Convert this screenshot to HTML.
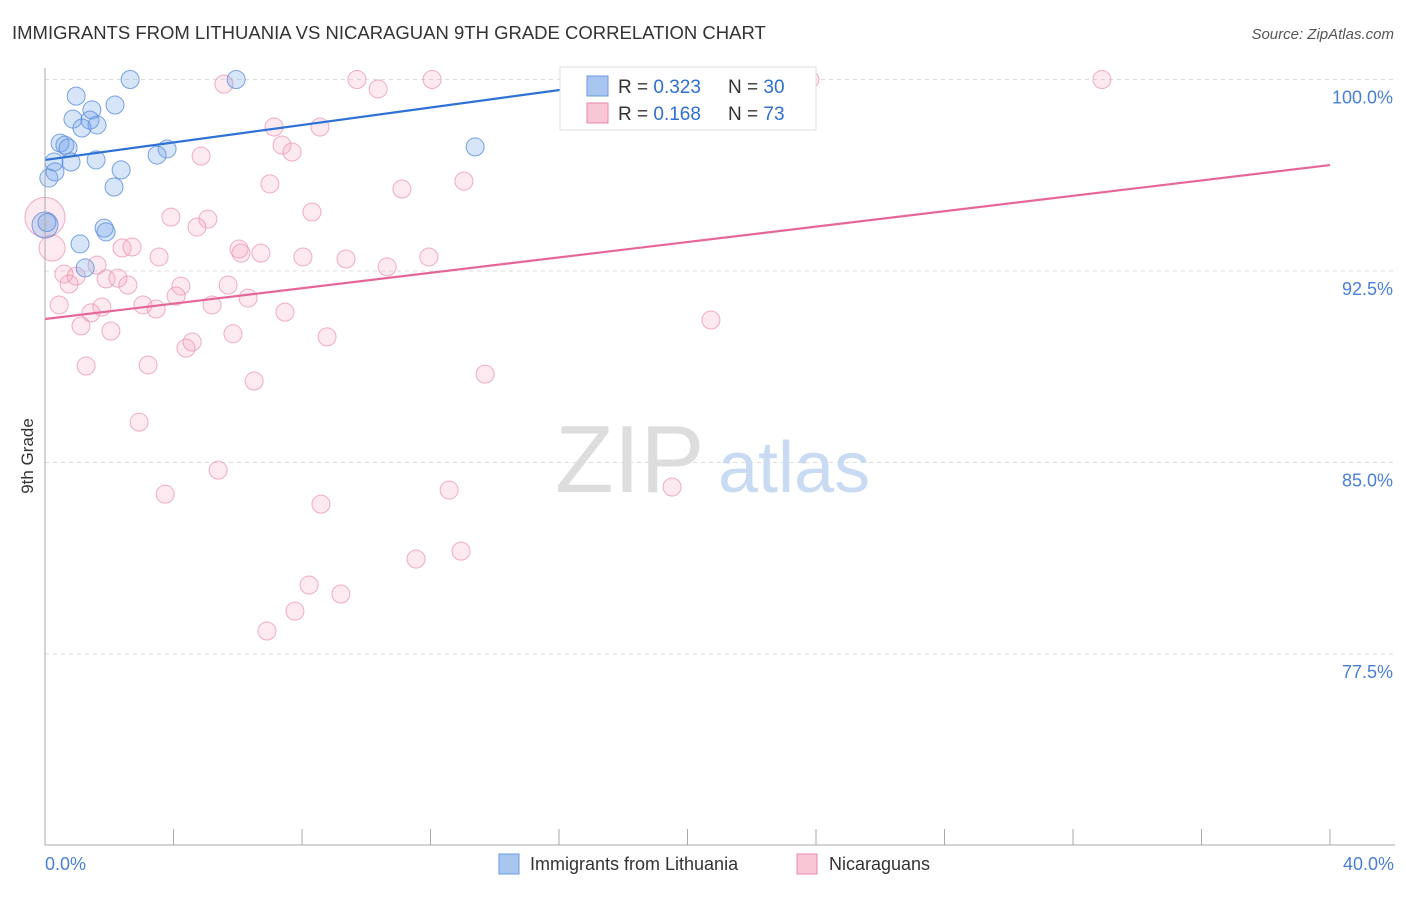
<!DOCTYPE html>
<html><head><meta charset="utf-8"><style>
body{margin:0;background:#fff;font-family:"Liberation Sans",sans-serif}
svg text{font-family:"Liberation Sans",sans-serif}
</style></head><body>
<svg width="1406" height="892" viewBox="0 0 1406 892">
<text x="12" y="39" font-size="18.5" fill="#333">IMMIGRANTS FROM LITHUANIA VS NICARAGUAN 9TH GRADE CORRELATION CHART</text>
<text x="1394" y="39" font-size="15" fill="#555" text-anchor="end" font-style="italic">Source: ZipAtlas.com</text>
<g id="grid"></g>
<text x="555" y="492" font-size="96" fill="#ddd" font-family="Liberation Serif">ZIP</text>
<text x="718" y="492" font-size="72" fill="#c8dbf3">atlas</text>
<g id="pts"></g>
<g id="lines"></g>
<line x1="45" y1="68" x2="45" y2="845" stroke="#aaa"/>
<line x1="45" y1="845" x2="1395" y2="845" stroke="#aaa"/>
<g id="ticks"></g>
<text x="33" y="456" font-size="17" fill="#333" text-anchor="middle" transform="rotate(-90 33 456)">9th Grade</text>
<text x="45" y="870" font-size="18" fill="#4a7fd6">0.0%</text>
<text x="1394" y="870" font-size="18" fill="#4a7fd6" text-anchor="end">40.0%</text>
<g>
<rect x="560" y="67" width="256" height="63" fill="#fff" stroke="#ddd"/>
<rect x="587" y="76" width="21" height="20" fill="#a9c6f0" stroke="#6a9be0"/>
<rect x="587" y="103" width="21" height="20" fill="#f9c6d6" stroke="#e88aa8"/>
<text x="618" y="93" font-size="19" fill="#333">R = <tspan fill="#2f6fd0">0.323</tspan></text>
<text x="728" y="93" font-size="19" fill="#333">N = <tspan fill="#2f6fd0">30</tspan></text>
<text x="618" y="120" font-size="19" fill="#333">R = <tspan fill="#2f6fd0"> 0.168</tspan></text>
<text x="728" y="120" font-size="19" fill="#333">N = <tspan fill="#2f6fd0"> 73</tspan></text>
</g>
<g>
<rect x="499" y="854" width="20" height="20" fill="#a9c6f0" stroke="#6a9be0"/>
<text x="530" y="870" font-size="18" fill="#333">Immigrants from Lithuania</text>
<rect x="797" y="854" width="20" height="20" fill="#f9c6d6" stroke="#e88aa8"/>
<text x="829" y="870" font-size="18" fill="#333">Nicaraguans</text>
</g>
</svg>
<script>
const yTicks=[100,92.5,85,77.5];
const yTickLabels=["100.0%","92.5%","85.0%","77.5%"];
const xTicks=[0,4,8,12,16,20,24,28,32,36,40];
const blueX=[2.65,5.95,18.43,0.97,1.46,2.18,0.87,1.40,1.62,1.15,0.47,0.62,0.72,3.80,3.49,13.39,0.28,0.81,1.59,2.37,0.12,0.31,2.15,1.84,1.90,1.09,1.25,0.0,0.06];
const blueY=[100,100,100,99.35,98.81,99.0,98.45,98.41,98.22,98.10,97.51,97.43,97.32,97.28,97.04,97.36,96.77,96.77,96.85,96.46,96.14,96.38,95.79,94.18,94.03,93.56,92.62,94.3,94.4];
const blueR=[9,9,9,9,9,9,9,9,9,9,9,9,9,9,9,9,9,9,9,9,9,9,9,9,9,9,9,13,9];
const pinkX=[5.57,9.71,10.37,12.05,20.98,23.81,32.90,16.81,7.13,8.56,7.38,7.69,4.86,7.00,11.11,13.04,3.92,5.07,8.31,4.73,2.40,2.71,6.04,6.10,6.72,3.55,8.03,9.37,11.95,10.65,0.59,0.97,1.62,1.90,2.27,0.75,2.58,4.23,5.70,4.08,6.32,5.20,3.05,3.46,1.77,1.43,0.44,7.47,1.12,2.05,5.85,8.78,4.58,4.39,20.73,1.28,3.21,6.51,13.70,2.93,5.39,3.74,12.58,19.52,8.59,12.95,11.55,8.22,9.21,7.78,6.91,0,0.22];
const pinkY=[99.82,100,99.63,100,100,100,100,99.94,98.14,98.14,97.43,97.16,97.00,95.91,95.71,96.02,94.61,94.53,94.81,94.22,93.40,93.44,93.36,93.20,93.20,93.05,93.05,92.97,93.05,92.66,92.38,92.30,92.73,92.19,92.22,91.99,91.95,91.91,91.95,91.52,91.44,91.17,91.17,91.01,91.09,90.86,91.17,90.89,90.35,90.15,90.04,89.92,89.72,89.48,90.58,88.78,88.82,88.19,88.46,86.58,84.70,83.76,83.92,84.04,83.37,81.53,81.22,80.20,79.85,79.18,78.40,94.6,93.4];
const blueTrend=[96.85,103.69];
const pinkTrend=[90.62,96.65];
const NS="http://www.w3.org/2000/svg";
const sx=v=>45+v/40*1285;
const sy=v=>79.5+(100-v)/7.5*191.5;
function mk(t,a,p){const e=document.createElementNS(NS,t);for(const k in a)e.setAttribute(k,a[k]);p.appendChild(e);return e;}
const grid=document.getElementById('grid');
yTicks.forEach((v,i)=>{
 const l=mk('line',{x1:45,x2:1395,y1:sy(v),y2:sy(v),stroke:'#ddd','stroke-dasharray':'4,4'},grid);
 
 
 const t=mk('text',{x:1393,y:sy(v)+24,'font-size':18,fill:'#4a7fd6','text-anchor':'end'},grid);
 t.textContent=yTickLabels[i];
 
 
});
const ticks=document.getElementById('ticks');
xTicks.forEach(v=>{
 const l=mk('line',{x1:sx(v),x2:sx(v),y1:829,y2:845,stroke:'#aaa'},ticks);
 
 
});
const pts=document.getElementById('pts');
pinkX.forEach((x,i)=>{
 const r=i==71?20:(i==72?13:9);
 const c=mk('circle',{cx:sx(x),cy:sy(pinkY[i]),r:r,fill:'rgba(244,160,188,0.22)',stroke:'rgba(234,147,176,0.75)','stroke-width':1},pts);
 
 
});
blueX.forEach((x,i)=>{
 const c=mk('circle',{cx:sx(x),cy:sy(blueY[i]),r:blueR[i],fill:'rgba(110,160,232,0.28)',stroke:'rgba(90,140,220,0.8)','stroke-width':1},pts);
 
 
});
const lines=document.getElementById('lines');
const bl=mk('line',{x1:sx(0),y1:sy(blueTrend[0]),x2:sx(18.43),y2:sy(blueTrend[0]+(blueTrend[1]-blueTrend[0])*18.43/40),stroke:'#2f72d6','stroke-width':2.2},lines);


const pl=mk('line',{x1:sx(0),y1:sy(pinkTrend[0]),x2:sx(40),y2:sy(pinkTrend[1]),stroke:'#e5679a','stroke-width':2.2},lines);


</script>
</body></html>
